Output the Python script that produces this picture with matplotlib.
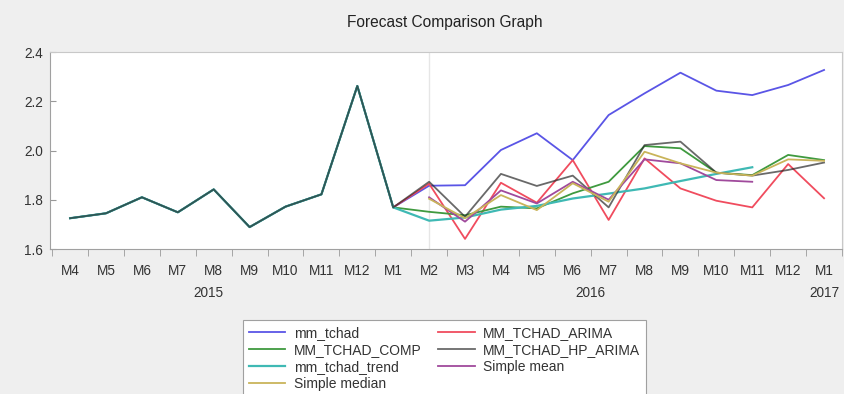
import numpy as np
import matplotlib.pyplot as plt
import matplotlib.transforms as mtransforms

plt.rcParams['font.family'] = ['Liberation Sans', 'DejaVu Sans']

# months 2015M4 .. 2017M1
months = ['M4', 'M5', 'M6', 'M7', 'M8', 'M9', 'M10', 'M11', 'M12',
          'M1', 'M2', 'M3', 'M4', 'M5', 'M6', 'M7', 'M8', 'M9', 'M10', 'M11', 'M12',
          'M1']
years = [('2015', 3.85), ('2016', 14.5), ('2017', 21)]

# observed history 2015M4 .. 2016M1
history = [1.725, 1.745, 1.81, 1.749, 1.842, 1.689, 1.772, 1.822, 2.262, 1.769]

nan = np.nan
# values 2016M2 .. 2017M1
mm_tchad = [1.857, 1.859, 2.002, 2.070, 1.961, 2.144, 2.232, 2.316, 2.243, 2.225, 2.266, 2.327]
mm_arima = [1.865, 1.641, 1.869, 1.788, 1.961, 1.718, 1.968, 1.846, 1.796, 1.769, 1.945, 1.806]
mm_comp = [1.751, 1.737, 1.772, 1.765, 1.826, 1.873, 2.018, 2.009, 1.910, 1.900, 1.982, 1.961]
mm_trend = [1.715, 1.728, 1.760, 1.775, 1.805, 1.825, 1.846, 1.876, 1.905, 1.932, nan, nan]
mm_hp_arima = [1.873, 1.731, 1.905, 1.856, 1.898, 1.769, 2.022, 2.036, 1.910, 1.898, 1.921, 1.951]
simple_mean = [1.810, 1.711, 1.838, 1.785, 1.873, 1.800, 1.964, 1.948, 1.880, 1.873, nan, nan]
simple_median = [1.804, 1.725, 1.819, 1.758, 1.867, 1.792, 1.995, 1.948, 1.910, 1.898, 1.964, 1.958]

x = np.arange(len(months))
pad = [nan] * (len(history) - 1)

def full(fc):
    return np.array(history + fc, dtype=float)

def from_m1(fc):
    return np.array(pad + [history[-1]] + fc, dtype=float)

def from_m2(fc):
    return np.array(pad + [nan] + fc, dtype=float)

fig = plt.figure(figsize=(8.45, 3.94), dpi=100)
fig.patch.set_facecolor('#efefef')
ax = fig.add_axes([50 / 845, 1 - 249 / 394, 792 / 845, 197 / 394])
ax.set_facecolor('white')

ax.axvline(10, color='#e6e6e6', lw=1.0, zorder=0)

lw = 1.3
l_mm, = ax.plot(x, full(mm_tchad), color='#5a55e6', lw=lw, label='mm_tchad')
l_ar, = ax.plot(x, from_m1(mm_arima), color='#f04c5e', lw=lw, label='MM_TCHAD_ARIMA')
l_cp, = ax.plot(x, full(mm_comp), color='#3f9a3f', lw=lw, label='MM_TCHAD_COMP')
l_tr, = ax.plot(x, full(mm_trend), color='#3fb9b4', lw=1.6, label='mm_tchad_trend')
l_hp, = ax.plot(x, full(mm_hp_arima), color='#2a2a2a', lw=lw, alpha=0.7, label='MM_TCHAD_HP_ARIMA')
l_mn, = ax.plot(x, from_m2(simple_mean), color='#a04a9c', lw=lw, label='Simple mean')
l_md, = ax.plot(x, from_m2(simple_median), color='#c9b45a', lw=lw, label='Simple median')

ax.set_xlim(-0.56, 21.5)
ax.set_ylim(1.6, 2.4)
ax.set_yticks([1.6, 1.8, 2.0, 2.2, 2.4])
ax.set_yticklabels(['1.6', '1.8', '2.0', '2.2', '2.4'])
ax.set_xticks(x)
ax.set_xticklabels(months)
ax.set_xticks(np.arange(-0.5, 22, 1), minor=True)
ax.tick_params(axis='x', which='major', length=0, pad=11, labelsize=9.8, colors='#333333')
ax.tick_params(axis='x', which='minor', length=5, direction='out', color='#999999')
ax.tick_params(axis='y', length=4, direction='in', pad=5, labelsize=9.8,
               colors='#333333', color='#999999')
for side in ['left', 'bottom']:
    ax.spines[side].set_color('#a0a0a0')
for side in ['top', 'right']:
    ax.spines[side].set_color('#c8c8c8')

trans = mtransforms.blended_transform_factory(ax.transData, ax.transAxes)
for label, pos in years:
    ax.text(pos, -0.225, label, transform=trans, ha='center', va='center',
            fontsize=9.8, color='#333333')

fig.text(445 / 845, 1 - 22 / 394, 'Forecast Comparison Graph', ha='center', va='center',
         fontsize=11.2, color='#222222')

handles = [l_mm, l_cp, l_tr, l_md, l_ar, l_hp, l_mn]
leg = fig.legend(handles, [h.get_label() for h in handles], ncol=2,
                 loc='upper left', bbox_to_anchor=(243 / 845, 1 - 320 / 394),
                 bbox_transform=fig.transFigure, borderaxespad=0, fontsize=10,
                 frameon=True, fancybox=False, edgecolor='#a0a0a0', framealpha=1,
                 handlelength=2.65, handletextpad=0.6, columnspacing=1.2,
                 labelspacing=0.22, borderpad=0.4)
leg.get_frame().set_linewidth(0.8)
for t in leg.get_texts():
    t.set_color('#333333')

fig.savefig('out.png', dpi=100, facecolor=fig.get_facecolor())
